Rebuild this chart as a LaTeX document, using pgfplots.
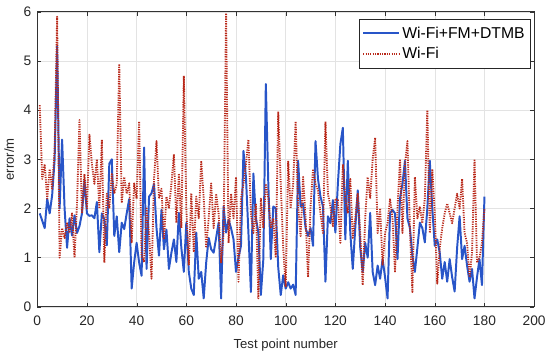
\documentclass[border=0pt]{standalone}
\usepackage{pgfplots}
\pgfplotsset{compat=1.18}
\usepackage{fontspec}
\setmainfont{Liberation Sans}
\definecolor{bl}{RGB}{40,85,200}
\definecolor{rd}{RGB}{185,40,25}
\pgfplotstableread{
x y
1 1.9
2 1.75
3 1.6
4 2.2
5 1.9
6 2.27
7 3.0
8 5.3
9 2.0
10 3.4
11 2.0
12 1.2
13 1.8
14 1.45
15 1.86
16 1.5
17 1.64
18 1.9
19 2.57
20 1.9
21 1.85
22 1.86
23 1.8
24 2.13
25 1.11
26 1.9
27 1.78
28 1.25
29 2.91
30 3.0
31 1.44
32 1.84
33 1.11
34 1.71
35 1.58
36 1.9
37 2.19
38 0.37
39 0.9
40 1.3
41 0.9
42 0.63
43 3.24
44 0.77
45 2.24
46 2.31
47 2.5
48 1.6
49 1.04
50 1.97
51 1.17
52 1.57
53 0.77
54 1.1
55 1.37
56 0.91
57 1.91
58 1.2
59 0.71
60 1.71
61 0.71
62 0.37
63 0.24
64 1.51
65 0.57
66 0.71
67 0.17
68 0.9
69 1.4
70 1.17
71 1.1
72 1.4
73 1.71
74 0.17
75 2.04
76 1.51
77 1.77
78 1.6
79 1.37
80 0.71
81 1.0
82 1.24
83 3.17
84 2.64
85 1.5
86 0.3
87 2.71
88 1.8
89 1.51
90 0.24
91 0.97
92 4.53
93 2.5
94 0.97
95 2.04
96 2.0
97 0.8
98 0.24
99 0.64
100 0.37
101 0.5
102 0.37
103 0.45
104 0.24
105 2.97
106 2.04
107 2.1
108 1.6
109 1.44
110 1.6
111 1.24
112 3.37
113 2.6
114 2.24
115 2.04
116 0.51
117 1.84
118 1.7
119 2.17
120 1.51
121 2.5
122 3.31
123 3.64
124 1.37
125 2.97
126 1.5
127 0.77
128 1.6
129 2.37
130 1.2
131 0.71
132 1.3
133 1.0
134 1.91
135 0.71
136 0.44
137 0.84
138 0.57
139 0.97
140 0.6
141 0.17
142 1.91
143 1.97
144 1.9
145 0.97
146 2.2
147 2.5
148 2.97
149 1.8
150 1.6
151 1.04
152 0.71
153 1.2
154 1.71
155 1.6
156 1.31
157 2.0
158 2.97
159 2.0
160 1.24
161 1.37
162 1.1
163 0.57
164 0.91
165 0.51
166 0.97
167 0.6
168 0.31
169 1.2
170 1.84
171 0.97
172 1.24
173 0.84
174 0.51
175 0.77
176 0.17
177 0.6
178 0.97
179 0.44
180 2.24
}\blue
\pgfplotstableread{
x y
1 4.1
2 2.6
3 2.9
4 2.2
5 2.8
6 2.4
7 3.2
8 5.9
9 1.0
10 1.6
11 1.4
12 1.7
13 1.5
14 1.9
15 1.0
16 2.1
17 3.8
18 1.9
19 2.7
20 2.0
21 3.5
22 2.9
23 2.5
24 3.0
25 2.0
26 3.4
27 0.9
28 2.3
29 2.0
30 2.7
31 2.3
32 2.5
33 4.94
34 2.11
35 2.64
36 2.3
37 2.51
38 1.31
39 2.51
40 2.2
41 3.77
42 1.04
43 0.91
44 2.0
45 1.5
46 0.57
47 2.6
48 3.37
49 2.2
50 2.4
51 1.37
52 2.24
53 2.0
54 2.5
55 3.1
56 1.71
57 2.71
58 1.6
59 4.7
60 2.0
61 0.84
62 2.31
63 1.11
64 2.24
65 1.8
66 2.97
67 2.2
68 1.2
69 1.8
70 2.51
71 1.6
72 2.3
73 1.9
74 0.9
75 1.5
76 5.97
77 1.3
78 2.3
79 1.8
80 2.64
81 0.51
82 2.2
83 2.5
84 2.9
85 3.4
86 1.9
87 1.5
88 2.1
89 0.17
90 2.2
91 1.6
92 2.5
93 2.2
94 1.6
95 1.8
96 1.0
97 3.97
98 2.5
99 1.2
100 0.4
101 2.97
102 2.0
103 2.5
104 3.77
105 2.04
106 1.44
107 2.64
108 1.8
109 0.6
110 2.04
111 2.8
112 2.5
113 2.37
114 1.9
115 1.5
116 3.77
117 2.3
118 2.04
119 1.64
120 2.2
121 2.17
122 1.3
123 2.9
124 2.2
125 1.9
126 2.6
127 1.4
128 1.8
129 2.3
130 1.5
131 0.44
132 1.8
133 2.64
134 2.2
135 3.0
136 3.44
137 1.5
138 2.0
139 0.84
140 1.5
141 1.7
142 2.2
143 1.8
144 0.7
145 2.0
146 3.0
147 1.5
148 2.9
149 3.37
150 1.6
151 0.3
152 2.64
153 1.8
154 2.04
155 1.7
156 2.2
157 4.0
158 1.5
159 2.8
160 1.9
161 0.47
162 1.2
163 1.6
164 1.9
165 2.1
166 1.9
167 1.7
168 2.0
169 2.3
170 2.0
171 2.6
172 1.5
173 1.3
174 0.6
175 1.1
176 3.0
177 0.9
178 1.0
179 1.3
180 2.0
}\red
\begin{document}
\begin{tikzpicture}
\begin{axis}[
  name=ax,
  scale only axis,
  width=379pt, height=225pt,
  xmin=0, xmax=200, ymin=0, ymax=6,
  xtick={0,20,...,200}, ytick={0,1,...,6},
  grid=major,
  major grid style={gray!22, line width=0.4pt},
  tick align=inside,
  major tick length=3pt,
  axis line style={black!80, line width=0.5pt},
  tick style={black!80},
  ticklabel style={font=\fontsize{10.5}{12}\selectfont, text=black!85},
  xticklabel style={yshift=-3.5pt},
  yticklabel style={xshift=-1pt},
  /pgf/number format/assume math mode=true,
  xlabel={Test point number},
  ylabel={error/m},
  label style={font=\fontsize{10}{12}\selectfont, text=black!85},
  xlabel style={yshift=-3pt},
  ylabel style={yshift=0.5pt},
  legend style={at={(0.992,0.975)}, anchor=north east, draw=black!85, line width=0.5pt,
    font=\fontsize{12}{14}\selectfont, inner xsep=2pt, inner ysep=3.5pt, row sep=1.5pt,
    cells={anchor=west}},
  legend cell align=left,
  legend image code/.code={\draw[#1] (0cm,0cm) -- (0.95cm,0cm);},
]
\addplot[bl, line width=1.5pt, line join=round] table[x=x,y=y] {\blue};
\addlegendentry{Wi-Fi+FM+DTMB}
\addplot[rd, line width=1.4pt, dash pattern=on 0.9pt off 0.9pt, line join=round] table[x=x,y=y] {\red};
\addlegendentry{Wi-Fi}
\end{axis}
\path ([yshift=9pt]ax.north);
\end{tikzpicture}
\end{document}
